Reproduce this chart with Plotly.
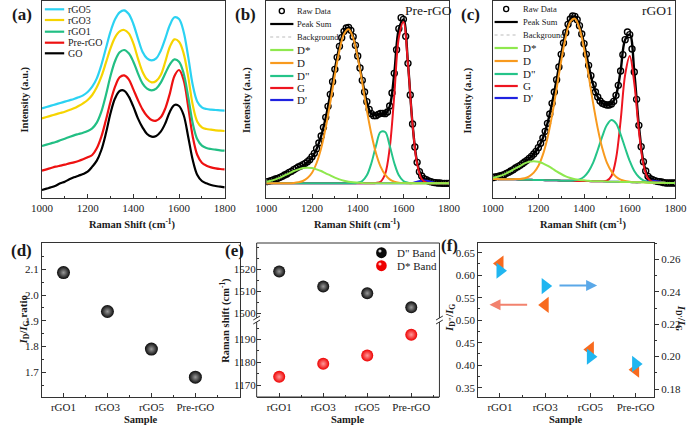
import plotly.graph_objects as go

FONT = "Liberation Serif, Times New Roman, serif"
AX = "#333333"
TXT = "#1a1a1a"
W, H = 700, 426


def px(x):
    return x / W


def py(y):
    return 1 - y / H


# ---------------- (a) Raman spectra (offset, a.u.) ----------------
a_shift = list(range(1000, 1801, 20))
a_GO = [24, 28, 32, 37, 44, 49, 56, 62, 67, 72, 79, 94, 112, 144, 194, 254, 299, 321, 322, 304, 274,
        239, 212, 192, 184, 186, 199, 224, 259, 279, 276, 249, 184, 114, 69, 51, 44, 39, 36, 34, 32]
a_PrerGO = [82, 86, 90, 94, 97, 100, 104, 107, 111, 116, 122, 129, 149, 184, 234, 289, 334, 362, 368, 356, 326,
            294, 266, 246, 234, 232, 242, 269, 314, 366, 384, 354, 274, 184, 129, 106, 97, 92, 89, 87, 86]
a_rGO1 = [156, 160, 164, 168, 173, 178, 183, 188, 192, 196, 201, 209, 226, 259, 309, 366, 411, 437, 444, 434, 409,
          374, 344, 328, 323, 328, 346, 374, 401, 416, 409, 374, 304, 224, 176, 157, 150, 147, 145, 143, 142]
a_rGO3 = [239, 243, 247, 251, 255, 259, 264, 269, 276, 284, 294, 309, 332, 364, 406, 449, 482, 500, 504, 494, 464,
          419, 379, 356, 347, 351, 369, 409, 454, 476, 469, 434, 364, 279, 229, 212, 207, 205, 203, 202, 201]
a_rGO5 = [269, 273, 277, 281, 285, 289, 293, 297, 302, 308, 318, 334, 359, 399, 449, 499, 536, 557, 563, 552, 522,
          479, 439, 419, 413, 419, 442, 479, 519, 542, 537, 499, 424, 339, 289, 272, 267, 265, 264, 263, 262]
a_names = ["GO", "Pre-rGO", "rGO1", "rGO3", "rGO5"]

# ---------------- (b) / (c) peak fits ----------------
fit_shift = list(range(1000, 1801, 20))
raw_shift = list(range(1000, 1801, 10))

b_raw = [49, 50, 52, 54, 57, 59, 62, 65, 69, 72,
         77, 80, 85, 89, 93, 96, 100, 104, 109, 115,
         124, 134, 148, 165, 186, 212, 242, 275, 311, 349,
         386, 422, 455, 481, 500, 510, 512, 503, 484, 458,
         426, 390, 353, 318, 289, 266, 253, 247, 247, 251,
         254, 254, 253, 258, 276, 315, 374, 445, 508, 541,
         536, 485, 404, 309, 222, 153, 107, 79, 66, 58,
         55, 51, 49, 47, 46, 45, 45, 44, 44, 44,
         44]
b_bg = [44] * 41
b_Dstar = [5, 8, 12, 17, 24, 30, 37, 42, 46, 47, 46, 42, 37, 30, 24, 17, 12, 8, 5, 3, 2,
           1, 0, 0, 0, 0, 0, 0, 0, 0, 0, 0, 0, 0, 0, 0, 0, 0, 0, 0, 0]
b_D = [0, 0, 0, 0, 0, 0, 1, 3, 7, 16, 32, 61, 105, 167, 243, 325, 398, 448, 462, 436, 378,
       301, 219, 147, 90, 50, 26, 12, 5, 2, 1, 0, 0, 0, 0, 0, 0, 0, 0, 0, 0]
b_Dpp = [0, 0, 0, 0, 0, 0, 0, 0, 0, 0, 0, 0, 0, 0, 0, 0, 0, 0, 0, 0, 2,
         7, 24, 61, 113, 154, 154, 113, 61, 24, 7, 2, 0, 0, 0, 0, 0, 0, 0, 0, 0]
b_G = [0, 0, 0, 0, 0, 0, 0, 0, 0, 0, 0, 0, 0, 0, 0, 0, 0, 0, 0, 0, 0,
       0, 0, 0, 1, 5, 28, 106, 264, 437, 484, 357, 176, 58, 13, 2, 0, 0, 0, 0, 0]
b_Dp = [0, 0, 0, 0, 0, 0, 0, 0, 0, 0, 0, 0, 0, 0, 0, 0, 0, 0, 0, 0, 0,
        0, 0, 0, 0, 0, 0, 0, 0, 0, 0, 0, 1, 5, 8, 8, 5, 1, 0, 0, 0]

c_raw = [61, 63, 64, 66, 68, 70, 74, 77, 81, 85,
         90, 94, 98, 103, 108, 113, 119, 125, 132, 140,
         151, 164, 180, 200, 224, 252, 284, 318, 355, 393,
         431, 465, 496, 521, 537, 546, 545, 535, 517, 492,
         463, 431, 398, 367, 340, 318, 303, 291, 284, 281,
         279, 279, 282, 290, 308, 338, 381, 430, 475, 498,
         490, 447, 378, 296, 218, 154, 109, 81, 65, 58,
         55, 52, 50, 49, 48, 46, 45, 45, 45, 45,
         45]
c_bg = [57, 57, 56, 56, 56, 56, 55, 55, 55, 54, 54, 54, 53, 53, 53, 52, 52, 52, 51, 51, 51,
        51, 50, 50, 50, 49, 49, 49, 48, 48, 48, 47, 47, 47, 46, 46, 46, 46, 45, 45, 45]
c_Dstar = [4, 7, 12, 18, 25, 33, 41, 49, 54, 56, 55, 50, 44, 36, 27, 20, 13, 8, 5, 3, 2,
           1, 0, 0, 0, 0, 0, 0, 0, 0, 0, 0, 0, 0, 0, 0, 0, 0, 0, 0, 0]
c_D = [0, 0, 0, 0, 0, 1, 2, 4, 10, 22, 42, 76, 127, 195, 275, 359, 431, 477, 487, 458, 397,
       317, 234, 159, 99, 57, 31, 15, 7, 3, 1, 0, 0, 0, 0, 0, 0, 0, 0, 0, 0]
c_Dpp = [0, 0, 0, 0, 0, 0, 0, 0, 0, 0, 0, 0, 0, 0, 0, 0, 0, 0, 2, 5, 13,
         29, 56, 94, 135, 170, 185, 175, 143, 102, 63, 34, 16, 6, 2, 1, 0, 0, 0, 0, 0]
c_G = [0, 0, 0, 0, 0, 0, 0, 0, 0, 0, 0, 0, 0, 0, 0, 0, 0, 0, 0, 0, 0,
       0, 0, 0, 0, 3, 17, 69, 183, 322, 378, 297, 155, 54, 13, 2, 0, 0, 0, 0, 0]
c_Dp = [0, 0, 0, 0, 0, 0, 0, 0, 0, 0, 0, 0, 0, 0, 0, 0, 0, 0, 0, 0, 0,
        0, 0, 0, 0, 0, 0, 0, 0, 0, 0, 0, 0, 2, 4, 6, 4, 2, 0, 0, 0]

# ---------------- (d)(e)(f) ----------------
samples = ["rGO1", "rGO3", "rGO5", "Pre-rGO"]
d_ID_IG = [2.087, 1.936, 1.790, 1.681]
e_Dpp_band = [1519.0, 1512.2, 1509.1, 1502.7]
e_Dstar_band = [1173.7, 1179.4, 1183.0, 1192.1]
f_left_ratio = [0.626, 0.534, 0.435, 0.390]
f_right_ratio = [0.253, 0.2435, 0.200, 0.1955]

d_ticks = [1.7, 1.8, 1.9, 2.0, 2.1]
e_upper_ticks = [1500, 1510, 1520]
e_lower_ticks = [1170, 1180, 1190]

A_COLORS = {"GO": "#000000", "Pre-rGO": "#EE1111", "rGO1": "#22BF84", "rGO3": "#F6D400", "rGO5": "#2BD2F2"}
FIT_COLORS = {"D*": "#8FE84E", "D": "#F89A1E", 'D"': "#25C489", "G": "#EE1520", "D'": "#1F22E0"}

fig = go.Figure()


def line_trace(x, y, color, xa, ya, width=2.0, dash="solid"):
    fig.add_trace(go.Scatter(x=x, y=y, mode="lines", xaxis=xa, yaxis=ya,
                             line=dict(color=color, width=width, dash=dash, shape="spline", smoothing=1.0),
                             showlegend=False, hoverinfo="skip"))


# (a)
for nm, vals in zip(a_names, [a_GO, a_PrerGO, a_rGO1, a_rGO3, a_rGO5]):
    line_trace(a_shift, vals, A_COLORS[nm], "x", "y", 2.2)


def fit_panel(raw, bg, comps, xa, ya):
    fig.add_trace(go.Scatter(x=raw_shift, y=raw, mode="markers", xaxis=xa, yaxis=ya,
                             marker=dict(symbol="circle-open", size=6, color="black", line=dict(width=1.4)),
                             showlegend=False, hoverinfo="skip"))
    total = [bg[i] + sum(c[i] for c in comps.values()) for i in range(len(bg))]
    line_trace(fit_shift, total, "black", xa, ya, 2.4)
    line_trace(fit_shift, bg, "#BBBBBB", xa, ya, 1.0, "dot")
    for key in ["D'", "G", 'D"', "D", "D*"]:
        line_trace(fit_shift, [b + v for b, v in zip(bg, comps[key])], FIT_COLORS[key], xa, ya, 2.0)


fit_panel(b_raw, b_bg, {"D*": b_Dstar, "D": b_D, 'D"': b_Dpp, "G": b_G, "D'": b_Dp}, "x2", "y2")
fit_panel(c_raw, c_bg, {"D*": c_Dstar, "D": c_D, 'D"': c_Dpp, "G": c_G, "D'": c_Dp}, "x3", "y3")

pos = list(range(len(samples)))

# (d)
fig.add_trace(go.Scatter(x=pos, y=d_ID_IG, mode="markers", xaxis="x4", yaxis="y4",
                         marker=dict(size=13, color="#0a0a0a", gradient=dict(type="radial", color="#9a9a9a"),
                                     line=dict(width=0)), showlegend=False, hoverinfo="skip"))
# (e)
fig.add_trace(go.Scatter(x=pos, y=e_Dpp_band, mode="markers", xaxis="x5", yaxis="y6",
                         marker=dict(size=12, color="#0a0a0a", gradient=dict(type="radial", color="#9a9a9a"),
                                     line=dict(width=0)), showlegend=False, hoverinfo="skip"))
fig.add_trace(go.Scatter(x=pos, y=e_Dstar_band, mode="markers", xaxis="x5", yaxis="y5",
                         marker=dict(size=12, color="#EE0000", gradient=dict(type="radial", color="#FF9A9A"),
                                     line=dict(width=0)), showlegend=False, hoverinfo="skip"))
# (f)
fig.add_trace(go.Scatter(x=pos, y=f_left_ratio, mode="markers", xaxis="x6", yaxis="y7",
                         marker=dict(symbol="triangle-left", size=14, color="#F86A1E", line=dict(width=0)),
                         showlegend=False, hoverinfo="skip"))
fig.add_trace(go.Scatter(x=pos, y=f_right_ratio, mode="markers", xaxis="x6", yaxis="y8",
                         marker=dict(symbol="triangle-right", size=14, color="#20B6F0", line=dict(width=0)),
                         showlegend=False, hoverinfo="skip"))


def axis(domain, anchor, rng, **kw):
    d = dict(domain=domain, anchor=anchor, range=rng, showline=True, linecolor=AX, linewidth=1,
             mirror=True, ticks="inside", ticklen=4, tickwidth=1, tickcolor=AX,
             tickfont=dict(family=FONT, size=11, color=TXT), showgrid=False, zeroline=False)
    d.update(kw)
    return d


top_y = [py(198), py(1)]
bot_y = [py(397), py(243)]
spec_x = dict(dtick=200, tick0=1000, minor=dict(dtick=100, ticklen=2, ticks="inside", tickcolor=AX))
spec_y = dict(showticklabels=False, ticks="")
cat_x = dict(tickmode="array", tickvals=pos, ticktext=samples,
             minor=dict(tickmode="array", tickvals=[p + 0.5 for p in pos], ticklen=2, ticks="inside", tickcolor=AX))

fig.update_layout(
    width=W, height=H, margin=dict(l=0, r=0, t=0, b=0),
    paper_bgcolor="white", plot_bgcolor="white", showlegend=False, hovermode=False,
    xaxis=axis([px(32), px(221)], "y", [1000, 1800], **spec_x),
    yaxis=axis(top_y, "x", [0, 591], **spec_y),
    xaxis2=axis([px(264), px(453)], "y2", [1000, 1800], **spec_x),
    yaxis2=axis(top_y, "x2", [0, 591], **spec_y),
    xaxis3=axis([px(498), px(687)], "y3", [1000, 1800], **spec_x),
    yaxis3=axis(top_y, "x3", [0, 591], **spec_y),
    xaxis4=axis([px(32), px(237)], "y4", [-0.49, 4.02], **cat_x),
    yaxis4=axis(bot_y, "x4", [1.604, 2.202], tickmode="array", tickvals=d_ticks, tickformat=".1f",
                minor=dict(dtick=0.05, tick0=0, ticklen=2, ticks="inside", tickcolor=AX)),
    xaxis5=axis([px(254), px(443)], "y5", [-0.512, 3.64], mirror=False, **cat_x),
    yaxis5=axis([py(397), py(320)], "x5", [1164.9, 1198.5], tickmode="array", tickvals=e_lower_ticks,
                showline=False, mirror=False,
                minor=dict(dtick=5, tick0=0, ticklen=2, ticks="inside", tickcolor=AX)),
    yaxis6=axis([py(320), py(243)], "x5", [1496.95, 1531.95], tickmode="array", tickvals=e_upper_ticks,
                showline=False, mirror=False,
                minor=dict(dtick=5, tick0=0, ticklen=2, ticks="inside", tickcolor=AX)),
    xaxis6=axis([px(483), px(665)], "y7", [-0.483, 3.41], **cat_x),
    yaxis7=axis(bot_y, "x6", [0.3293, 0.6716], dtick=0.05, tick0=0, tickformat=".2f", mirror=False,
                minor=dict(dtick=0.025, ticklen=2, ticks="inside", tickcolor=AX)),
    yaxis8=axis(bot_y, "x6", [0.1751, 0.2701], dtick=0.02, tick0=0, tickformat=".2f", mirror=False,
                overlaying="y7", side="right", ticks="outside",
                minor=dict(dtick=0.01, ticklen=2, ticks="outside", tickcolor=AX)),
)


def txt(x, y, s, size=11, xanchor="center", yanchor="middle", angle=0, color=TXT):
    return dict(x=px(x), y=py(y), xref="paper", yref="paper", text=s, showarrow=False,
                font=dict(family=FONT, size=size, color=color), xanchor=xanchor, yanchor=yanchor,
                textangle=angle)


ann = []
# panel letters
for lab, x, y in [("(a)", 11, 15), ("(b)", 242, 15), ("(c)", 475, 15),
                  ("(d)", 11, 250), ("(e)", 231, 250), ("(f)", 453, 245)]:
    ann.append(txt(x, y, "<b>%s</b>" % lab, 17))
# x titles
for cx in [126, 358, 592]:
    ann.append(txt(cx, 224, "<b>Raman Shift (cm<sup>-1</sup>)</b>", 10.5))
for cx in [134, 348, 574]:
    ann.append(txt(cx, 419, "<b>Sample</b>", 10.5))
# y titles
for cx in [14, 244, 473]:
    ann.append(txt(cx, 100, "<b>Intensity (a.u.)</b>", 10.5, angle=-90))
ann.append(txt(13, 320, "<b><i>I</i><sub>D</sub>/<i>I</i><sub>G</sub> ratio</b>", 11, angle=-90))
ann.append(txt(221, 320, "<b>Raman shift (cm<sup>-1</sup>)</b>", 10.5, angle=-90))
ann.append(txt(454, 318, '<b><i>I</i><sub>D"</sub>/<i>I</i><sub>G</sub></b>', 11, angle=-90))
ann.append(txt(693, 318, "<b><i>I</i><sub>D'</sub>/<i>I</i><sub>G</sub></b>", 11, angle=90))
# sample labels in (b),(c)
ann.append(txt(432, 10, "Pre-rGO", 13.5))
ann.append(txt(668, 10, "rGO1", 13.5))

shapes = []


def hline(x0, x1, y, color, width=2.0, dash="solid"):
    return dict(type="line", xref="paper", yref="paper", x0=px(x0), x1=px(x1), y0=py(y), y1=py(y),
                line=dict(color=color, width=width, dash=dash))


def circ(cx, cy, r, color, fill="rgba(0,0,0,0)", width=1.4):
    return dict(type="circle", xref="paper", yref="paper", x0=px(cx - r), x1=px(cx + r),
                y0=py(cy + r), y1=py(cy - r), line=dict(color=color, width=width), fillcolor=fill)


# legend (a)
for nm, yy in zip(["rGO5", "rGO3", "rGO1", "Pre-rGO", "GO"], [9.3, 20, 31.7, 42.7, 53.3]):
    shapes.append(hline(35, 55, yy, A_COLORS[nm], 2.2))
    ann.append(txt(57, yy, nm, 10, xanchor="left"))


# legends (b),(c)
def fit_legend(x0, x1, xt, ys):
    cx = (x0 + x1) / 2
    shapes.append(circ(cx, ys[0], 2.6, "black"))
    ann.append(txt(xt, ys[0], "Raw Data", 8.5, xanchor="left"))
    shapes.append(hline(x0, x1, ys[1], "black", 2.2))
    ann.append(txt(xt, ys[1], "Peak Sum", 8.5, xanchor="left"))
    shapes.append(hline(x0, x1, ys[2], "#BBBBBB", 1.0, "dot"))
    ann.append(txt(xt, ys[2], "Background", 8.5, xanchor="left"))
    for key, yy in zip(["D*", "D", 'D"', "G", "D'"], ys[3:]):
        shapes.append(hline(x0, x1, yy, FIT_COLORS[key], 2.2))
        ann.append(txt(xt, yy, key, 11, xanchor="left"))


fit_legend(268, 292, 294, [11, 24, 37, 50, 63, 76, 88, 100])
fit_legend(500, 524, 527, [9, 22, 35, 48, 61, 74, 86, 98])

# (e) frame, break marks, legend
shapes.append(dict(type="rect", xref="paper", yref="paper", x0=px(254), x1=px(443), y0=py(397), y1=py(243),
                   line=dict(color=AX, width=1)))
for xe in [254, 443]:
    shapes.append(dict(type="rect", xref="paper", yref="paper", x0=px(xe - 2), x1=px(xe + 2),
                       y0=py(322), y1=py(318), line=dict(width=0), fillcolor="white"))
    for yb in [318, 322]:
        shapes.append(dict(type="line", xref="paper", yref="paper", x0=px(xe - 3.5), x1=px(xe + 3.5),
                           y0=py(yb + 2), y1=py(yb - 2), line=dict(color=AX, width=1)))
shapes.append(circ(383, 252.7, 5.5, "#0a0a0a", "#0a0a0a", 0))
shapes.append(circ(381.5, 251, 1.6, "#cfcfcf", "#cfcfcf", 0))
shapes.append(circ(383, 265.7, 5.5, "#EE0000", "#EE0000", 0))
shapes.append(circ(381.5, 264, 1.6, "#FFC0C0", "#FFC0C0", 0))
ann.append(txt(397, 252.7, 'D" Band', 11, xanchor="left"))
ann.append(txt(397, 265.7, "D* Band", 11, xanchor="left"))

# (f) arrows
ann.append(dict(x=-0.231, y=0.5344, ax=0.634, ay=0.5344, xref="x6", yref="y7", axref="x6", ayref="y7",
                text="", showarrow=True, arrowhead=2, arrowsize=1.1, arrowwidth=2, arrowcolor="#F2826E"))
ann.append(dict(x=2.149, y=0.2439, ax=1.283, ay=0.2439, xref="x6", yref="y8", axref="x6", ayref="y8",
                text="", showarrow=True, arrowhead=2, arrowsize=1.1, arrowwidth=2, arrowcolor="#5AA8E8"))

fig.update_layout(annotations=ann, shapes=shapes)
fig.write_html("out.html", config={"displayModeBar": False, "staticPlot": True},
               post_script="document.body.style.margin='0px';document.body.style.overflow='hidden';")
